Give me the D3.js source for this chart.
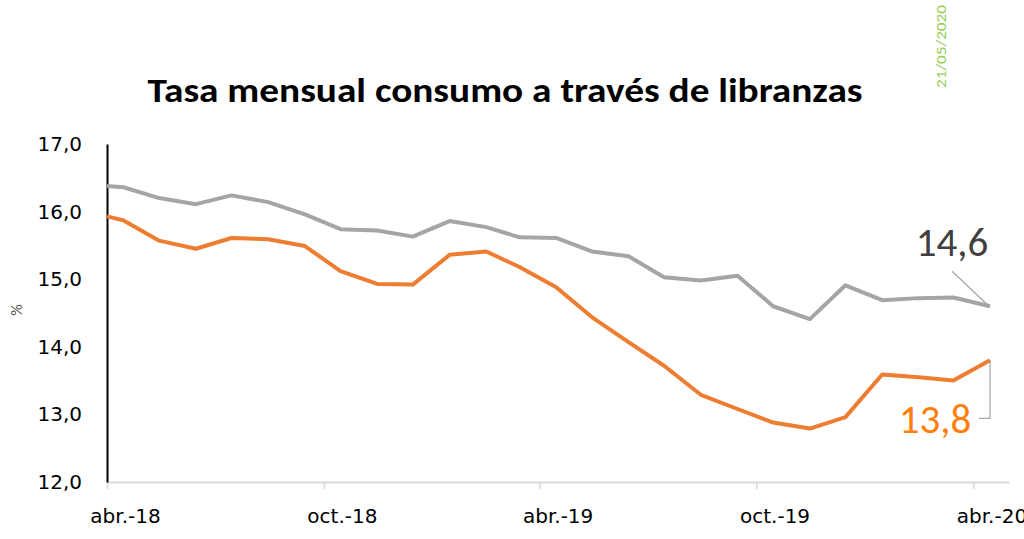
<!DOCTYPE html>
<html><head><meta charset="utf-8">
<script src="https://cdn.jsdelivr.net/npm/d3@7"></script>
<style>
html,body{margin:0;padding:0;background:#fff;overflow:hidden;}
svg{display:block;font-family:Carlito,Calibri,Lato,"Open Sans",sans-serif;}
</style></head>
<body>
<svg id="c" width="1024" height="539"></svg>
<script>
const title = "Tasa mensual consumo a través de libranzas";
const stamp = "21/05/2020";
const dates = ["2018-04-01","2018-04-15","2018-05-15","2018-06-15","2018-07-15","2018-08-15","2018-09-15","2018-10-15","2018-11-15","2018-12-15","2019-01-15","2019-02-15","2019-03-15","2019-04-15","2019-05-15","2019-06-15","2019-07-15","2019-08-15","2019-09-15","2019-10-15","2019-11-15","2019-12-15","2020-01-15","2020-02-15","2020-03-15","2020-04-15"];
const grayValues = [16.38,16.36,16.20,16.11,16.24,16.14,15.96,15.74,15.72,15.63,15.86,15.77,15.62,15.61,15.41,15.34,15.03,14.98,15.05,14.60,14.41,14.91,14.69,14.72,14.73,14.60];
const orangeValues = [15.93,15.87,15.57,15.45,15.61,15.59,15.49,15.12,14.93,14.92,15.36,15.41,15.18,14.88,14.44,14.07,13.72,13.29,13.08,12.88,12.79,12.96,13.59,13.55,13.50,13.80];
const xTickDates = ["2018-04-01","2018-10-01","2019-04-01","2019-10-01","2020-04-01"];
const xTickLabels = ["abr.-18","oct.-18","abr.-19","oct.-19","abr.-20"];
const yTicks = [12,13,14,15,16,17];
const lastGrayLabel = "14,6";
const lastOrangeLabel = "13,8";

const parse = d3.utcParse("%Y-%m-%d");
const svg = d3.select("#c");
const x = d3.scaleUtc().domain([parse("2018-04-01"), parse("2020-05-01")]).range([107, 1009]);
const y = d3.scaleLinear().domain([12,17]).range([482,144]);
const tickFont = "'DejaVu Sans',sans-serif";

// title
svg.append("text").attr("x",505).attr("y",102).attr("text-anchor","middle")
  .attr("font-size",35).attr("font-weight","bold").attr("fill","#000")
  .attr("textLength",715).attr("lengthAdjust","spacingAndGlyphs").text(title);

// date stamp
svg.append("text").attr("transform","translate(946,88) rotate(-90)")
  .attr("font-size",14).attr("fill","#92D050").attr("textLength",83)
  .attr("lengthAdjust","spacingAndGlyphs").text(stamp);

// y label
svg.append("text").attr("transform","translate(22,310) rotate(-90)")
  .attr("text-anchor","middle").attr("font-size",16).attr("fill","#595959").text("%");

// x axis
const xAxis = d3.axisBottom(x).tickValues(xTickDates.map(parse))
  .tickFormat((d,i)=>xTickLabels[i]).tickSize(7).tickSizeOuter(0).tickPadding(20);
const gx = svg.append("g").attr("transform","translate(0,482)").call(xAxis);
gx.select(".domain").attr("stroke","#D9D9D9").attr("stroke-width",2);
gx.selectAll(".tick line").attr("stroke","#D9D9D9").attr("stroke-width",1.5);
gx.selectAll(".tick text").attr("font-size",20).attr("fill","#000").attr("font-family",tickFont).attr("dx",18);

// y axis
const yAxis = d3.axisLeft(y).tickValues(yTicks).tickFormat(d=>d3.format(".1f")(d).replace(".",","))
  .tickSize(0).tickPadding(25);
const gy = svg.append("g").attr("transform","translate(107,0)").call(yAxis);
gy.select(".domain").attr("stroke","#000").attr("stroke-width",2);
gy.selectAll(".tick text").attr("font-size",20).attr("fill","#000").attr("font-family",tickFont);

const line = d3.line().x((d,i)=>x(parse(dates[i]))).y(d=>y(d));
svg.append("path").datum(grayValues).attr("d",line).attr("fill","none")
  .attr("stroke","#A5A5A5").attr("stroke-width",4).attr("stroke-linejoin","round");
svg.append("path").datum(orangeValues).attr("d",line).attr("fill","none")
  .attr("stroke","#ED7D31").attr("stroke-width",4).attr("stroke-linejoin","round");

// data labels
const lx = x(parse(dates[dates.length-1]));
const gyv = y(grayValues[grayValues.length-1]);
const oyv = y(orangeValues[orangeValues.length-1]);
svg.append("line").attr("x1",lx-2).attr("y1",gyv-1).attr("x2",lx-38).attr("y2",gyv-35)
  .attr("stroke","#A5A5A5").attr("stroke-width",1.2);
svg.append("text").attr("x",lx-38).attr("y",gyv-50).attr("text-anchor","middle")
  .attr("font-size",41).attr("fill","#404040").text(lastGrayLabel);
svg.append("path").attr("d",`M${lx},${oyv}V${oyv+58}H${lx-11}`).attr("fill","none")
  .attr("stroke","#A5A5A5").attr("stroke-width",1.2);
svg.append("text").attr("x",lx-55).attr("y",oyv+73).attr("text-anchor","middle")
  .attr("font-size",41).attr("fill","#FF7F0E").text(lastOrangeLabel);
</script>
</body></html>
